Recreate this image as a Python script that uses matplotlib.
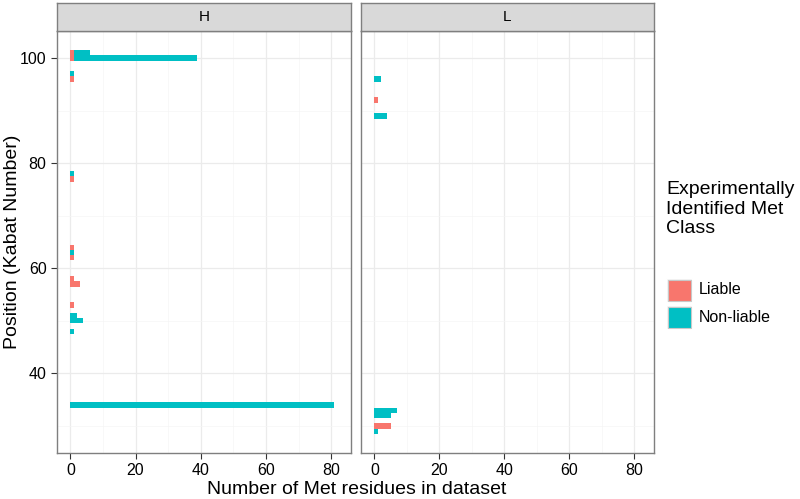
import matplotlib.pyplot as plt
from matplotlib.patches import Rectangle

plt.rcParams['font.family'] = ['Liberation Sans', 'DejaVu Sans']

# counts of Met residues per Kabat position
H_liable_pos = [101, 100, 96, 77, 64, 62, 58, 57, 53]
H_liable_n = [1, 1, 1, 1, 1, 1, 1, 3, 1]
H_nonliable_pos = [101, 100, 97, 78, 63, 51, 50, 48, 34]
H_nonliable_n = [5, 38, 1, 1, 1, 2, 4, 1, 81]

L_liable_pos = [92, 30]
L_liable_n = [1, 5]
L_nonliable_pos = [96, 89, 33, 32, 29]
L_nonliable_n = [2, 4, 7, 5, 1]

chains = ['H', 'L']
classes = ['Liable', 'Non-liable']
red = '#F8766D'
teal = '#00BFC4'

fig = plt.figure(figsize=(8, 4.99), dpi=100)
W, Hh = 800, 499

def px(x0, y0, x1, y1):
    return [x0 / W, 1 - y1 / Hh, (x1 - x0) / W, (y1 - y0) / Hh]

data = {
    'H': (H_liable_pos, H_liable_n, H_nonliable_pos, H_nonliable_n),
    'L': (L_liable_pos, L_liable_n, L_nonliable_pos, L_nonliable_n),
}
panels = [(57, 351), (361, 654)]

for i, ch in enumerate(chains):
    x0, x1 = panels[i]
    ax = fig.add_axes(px(x0, 31, x1, 453))
    lp, ln, np_, nn = data[ch]
    base = {}
    for p, n in zip(lp, ln):
        ax.barh(p, n, height=1.0, color=red, linewidth=0, zorder=3)
        base[p] = n
    for p, n in zip(np_, nn):
        ax.barh(p, n, left=base.get(p, 0), height=1.0, color=teal, linewidth=0, zorder=3)
    ax.set_xlim(-4.1, 86.1)
    ax.set_ylim(24.85, 105.15)
    ax.set_xticks([0, 20, 40, 60, 80])
    ax.set_yticks([40, 60, 80, 100])
    ax.set_xticks([10, 30, 50, 70], minor=True)
    ax.set_yticks([30, 50, 70, 90], minor=True)
    ax.grid(True, which='major', color='#EBEBEB', linewidth=0.9, zorder=0)
    ax.grid(True, which='minor', color='#F5F5F5', linewidth=0.5, zorder=0)
    ax.tick_params(which='minor', length=0)
    ax.tick_params(which='major', length=4, color='#333333', labelsize=11.5, labelcolor='black')
    for s in ax.spines.values():
        s.set_color('#7F7F7F')
        s.set_linewidth(1.0)
    if i == 1:
        ax.tick_params(axis='y', left=False, labelleft=False)
    # strip
    sax = fig.add_axes(px(x0, 3, x1, 31))
    sax.set_facecolor('#D9D9D9')
    sax.set_xticks([])
    sax.set_yticks([])
    for s in sax.spines.values():
        s.set_color('#7F7F7F')
        s.set_linewidth(1.0)
    sax.text(0.5, 0.5, ch, ha='center', va='center', fontsize=11, transform=sax.transAxes)

fig.text(357 / W, 1 - 490 / Hh, 'Number of Met residues in dataset', ha='center', va='center', fontsize=14)
fig.text(13 / W, 1 - 242 / Hh, 'Position (Kabat Number)', ha='center', va='center', rotation=90, fontsize=14)

# legend
fig.text(666 / W, 1 - 181 / Hh, 'Experimentally\nIdentified Met\nClass', ha='left', va='top',
         fontsize=14, linespacing=1.2)
for j, (lab, col) in enumerate(zip(classes, [red, teal])):
    yc = 290 + j * 27
    fig.add_artist(Rectangle((666 / W, 1 - (yc + 12) / Hh), 26 / W, 24 / Hh,
                             transform=fig.transFigure, facecolor='#F2F2F2',
                             edgecolor='white', linewidth=1))
    fig.add_artist(Rectangle((667.5 / W, 1 - (yc + 10.5) / Hh), 23 / W, 21 / Hh,
                             transform=fig.transFigure, facecolor=col,
                             edgecolor='#C8C8C8', linewidth=0.8))
    fig.text(699 / W, 1 - yc / Hh, lab, ha='left', va='center', fontsize=11.5)

fig.savefig('out.png', dpi=100)
